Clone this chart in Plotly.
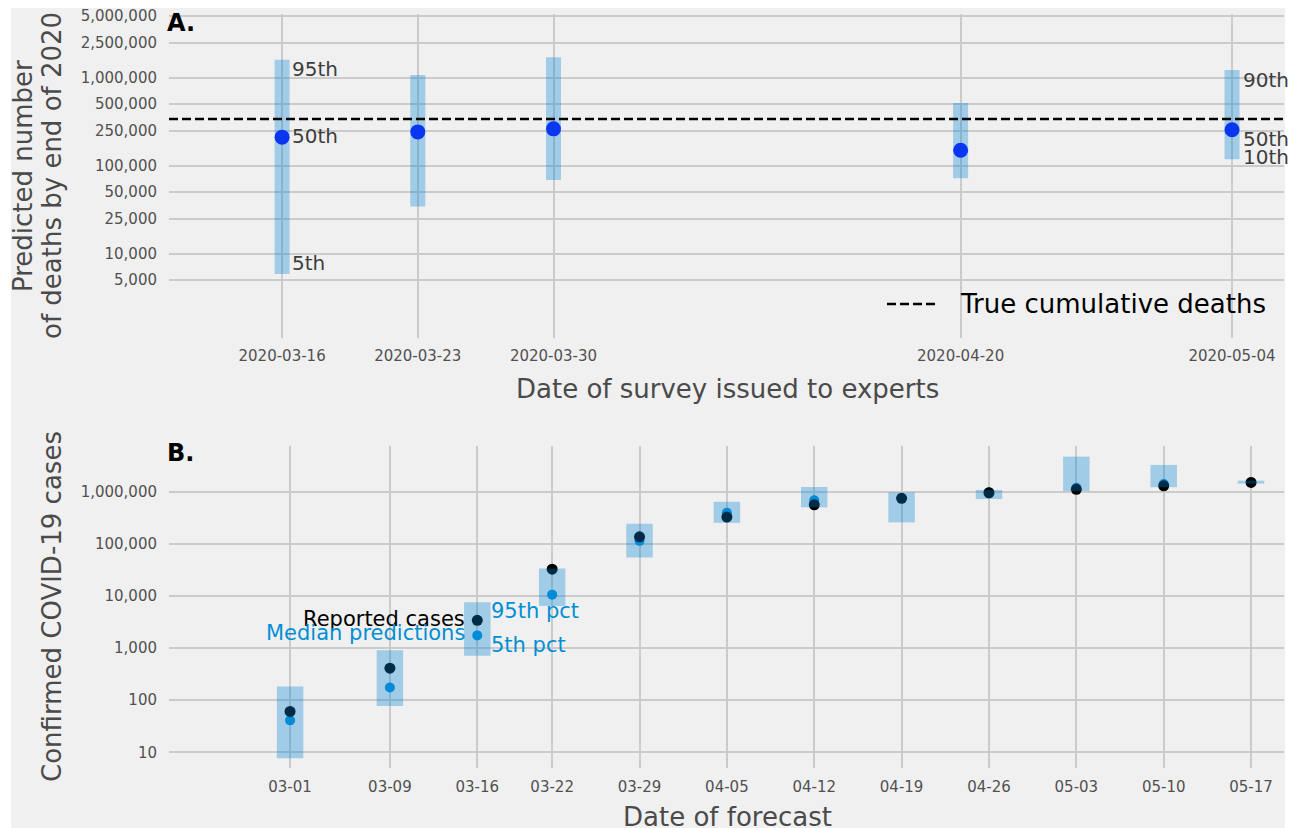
import numpy as np
import plotly.graph_objects as go

# ---------------- Panel A: expert survey predictions of 2020 deaths ----------------
survey_dates = ["2020-03-16", "2020-03-23", "2020-03-30", "2020-04-20", "2020-05-04"]
pred_low = [5840, 34200, 68700, 71800, 118000]        # 5th pct (10th for the last survey)
pred_median = [210000, 241000, 261000, 149000, 255000]
pred_high = [1590000, 1070000, 1700000, 515000, 1220000]  # 95th pct (90th for the last survey)
true_deaths = 338000

deaths_ticks = [5000, 10000, 25000, 50000, 100000, 250000, 500000, 1000000, 2500000, 5000000]
deaths_tick_text = [f"{v:,}" for v in deaths_ticks]

# ---------------- Panel B: weekly case forecasts vs reported ----------------
forecast_dates = ["2020-03-01", "2020-03-09", "2020-03-16", "2020-03-22", "2020-03-29",
                  "2020-04-05", "2020-04-12", "2020-04-19", "2020-04-26", "2020-05-03",
                  "2020-05-10", "2020-05-17"]
forecast_tick_text = ["03-01", "03-09", "03-16", "03-22", "03-29", "04-05", "04-12",
                      "04-19", "04-26", "05-03", "05-10", "05-17"]
cases_low = [7.7, 77, 714, 6430, 54700, 253000, 501000, 258000, 723000, 1030000, 1220000, 1430000]
cases_high = [183, 904, 7570, 33600, 243000, 642000, 1230000, 973000, 1080000, 4710000, 3260000, 1630000]
cases_median = [41, 175, 1750, 10600, 114000, 395000, 684000, 760000, 980000, 1190000, 1410000, 1520000]
cases_reported = [61, 412, 3410, 32600, 136000, 326000, 562000, 747000, 955000, 1110000, 1300000, 1510000]
cases_ticks = [10, 100, 1000, 10000, 100000, 1000000]
cases_tick_text = [f"{v:,}" for v in cases_ticks]

# ---------------- style ----------------
W, H = 1302, 828
FONT = "DejaVu Sans"
BG = "#f0f0f0"
GRID = "#cbcbcb"
TICK_COL = "#505050"
TITLE_COL = "#4a4a4a"
BAR_COL = "rgba(0,130,215,0.33)"
BLUE = "#008fd5"
DOT_A = "#0a36f2"


def px_x(px):
    return px / W


def px_y(py):
    return 1 - py / H


fig = go.Figure()

# Panel A bars (interval between low and high percentile)
fig.add_trace(go.Bar(
    x=survey_dates, base=pred_low,
    y=[h - l for h, l in zip(pred_high, pred_low)],
    width=0.774 * 86400000, marker=dict(color=BAR_COL, line=dict(width=0)),
    xaxis="x", yaxis="y", showlegend=False, hoverinfo="skip",
))
# Panel A: observed cumulative deaths as a dashed horizontal line across the axis
x_range_a = ["2020-03-10 04:00", "2020-05-06 16:20"]
fig.add_trace(go.Scatter(
    x=x_range_a, y=[true_deaths, true_deaths], mode="lines",
    line=dict(color="black", width=2.5, dash="9px,4px"),
    xaxis="x", yaxis="y", showlegend=False, hoverinfo="skip",
))
# Panel A medians
fig.add_trace(go.Scatter(
    x=survey_dates, y=pred_median, mode="markers",
    marker=dict(color=DOT_A, size=15),
    xaxis="x", yaxis="y", showlegend=False,
))

# Panel B: medians and reported counts, with interval boxes drawn on top
fig.add_trace(go.Scatter(
    x=forecast_dates, y=cases_median, mode="markers",
    marker=dict(color=BLUE, size=10),
    xaxis="x2", yaxis="y2", showlegend=False, zorder=0,
))
fig.add_trace(go.Scatter(
    x=forecast_dates, y=cases_reported, mode="markers",
    marker=dict(color="black", size=11),
    xaxis="x2", yaxis="y2", showlegend=False, zorder=1,
))
fig.add_trace(go.Bar(
    x=forecast_dates, base=cases_low,
    y=[h - l for h, l in zip(cases_high, cases_low)],
    width=2.12 * 86400000, marker=dict(color=BAR_COL, line=dict(width=0)),
    xaxis="x2", yaxis="y2", showlegend=False, hoverinfo="skip", zorder=2,
))

axis_common = dict(
    showgrid=True, gridcolor=GRID, gridwidth=1.6, zeroline=False, showline=False,
    ticks="", automargin=False,
    tickfont=dict(family=FONT, size=15, color=TICK_COL),
)

fig.update_layout(
    width=W, height=H,
    margin=dict(l=0, r=0, t=0, b=0, autoexpand=False),
    paper_bgcolor="white",
    plot_bgcolor="rgba(0,0,0,0)",
    font=dict(family=FONT),
    barmode="overlay",
    xaxis=dict(domain=[px_x(169), px_x(1284)], anchor="y", type="date",
               range=x_range_a, tickmode="array", tickvals=survey_dates,
               ticktext=survey_dates, ticklabelstandoff=7, **axis_common),
    yaxis=dict(domain=[px_y(338), px_y(14)], anchor="x", type="log",
               range=[3.040, 6.722], tickmode="array", tickvals=deaths_ticks,
               ticktext=deaths_tick_text, ticklabelstandoff=11, **axis_common),
    xaxis2=dict(domain=[px_x(169), px_x(1284)], anchor="y2", type="date",
                range=["2020-02-20 07:12", "2020-05-19 15:20"], tickmode="array",
                tickvals=forecast_dates, ticktext=forecast_tick_text,
                ticklabelstandoff=8, **axis_common),
    yaxis2=dict(domain=[px_y(768), px_y(446)], anchor="x2", type="log",
                range=[0.699, 6.877], tickmode="array", tickvals=cases_ticks,
                ticktext=cases_tick_text, ticklabelstandoff=11, **axis_common),
)

# gray canvas behind both panels
fig.add_shape(type="rect", xref="paper", yref="paper",
              x0=px_x(11), x1=px_x(1285), y0=0, y1=px_y(8),
              fillcolor=BG, line=dict(width=0), layer="below")

# legend key for the dashed line
fig.add_shape(type="line", xref="paper", yref="paper",
              x0=px_x(887), x1=px_x(938), y0=px_y(304), y1=px_y(304),
              line=dict(color="black", width=2.5, dash="9px,4px"))

ann = []


def text(x, y, s, size, color, xanchor="center", yanchor="middle", angle=0,
         xref="paper", yref="paper", xshift=0, yshift=0, bold=False):
    if bold:
        s = f"<b>{s}</b>"
    ann.append(dict(x=x, y=y, text=s, xref=xref, yref=yref, showarrow=False,
                    xanchor=xanchor, yanchor=yanchor, textangle=angle,
                    xshift=xshift, yshift=yshift,
                    font=dict(family=FONT, size=size, color=color)))


# axis titles and panel letters
text(px_x(23), px_y(176), "Predicted number", 26, TITLE_COL, angle=-90)
text(px_x(52), px_y(176), "of deaths by end of 2020", 26, TITLE_COL, angle=-90)
text(px_x(727), px_y(389), "Date of survey issued to experts", 26, TITLE_COL)
text(px_x(52), px_y(607), "Confirmed COVID-19 cases", 26, TITLE_COL, angle=-90)
text(px_x(727), px_y(817), "Date of forecast", 26, TITLE_COL)
text(px_x(165), px_y(23), "A.", 24, "black", xanchor="left", bold=True)
text(px_x(165), px_y(453), "B.", 24, "black", xanchor="left", bold=True)
text(px_x(958), px_y(304), "True cumulative deaths", 26, "black", xanchor="left")

# percentile labels, panel A
PCT_COL = "#3d3d3d"
d0, d4 = survey_dates[0], survey_dates[-1]
text(d0, np.log10(pred_high[0]), "95th", 20, PCT_COL, "left", xref="x", yref="y", xshift=8, yshift=-9)
text(d0, np.log10(pred_median[0]), "50th", 20, PCT_COL, "left", xref="x", yref="y", xshift=8, yshift=1)
text(d0, np.log10(pred_low[0]), "5th", 20, PCT_COL, "left", xref="x", yref="y", xshift=8, yshift=11)
text(d4, np.log10(pred_high[-1]), "90th", 20, PCT_COL, "left", xref="x", yref="y", xshift=9, yshift=-10)
text(d4, np.log10(pred_median[-1]), "50th", 20, PCT_COL, "left", xref="x", yref="y", xshift=9, yshift=-9)
text(d4, np.log10(pred_low[-1]), "10th", 20, PCT_COL, "left", xref="x", yref="y", xshift=9, yshift=2)

# series labels, panel B (on the 03-16 forecast)
k = 2
fd = forecast_dates[k]
text(fd, np.log10(cases_reported[k]), "Reported cases", 21, "black", "right", xref="x2", yref="y2", xshift=-10, yshift=1)
text(fd, np.log10(cases_median[k]), "Median predictions", 21, BLUE, "right", xref="x2", yref="y2", xshift=-10, yshift=2)
text(fd, np.log10(cases_high[k]), "95th pct", 21, BLUE, "left", xref="x2", yref="y2", xshift=12, yshift=-9)
text(fd, np.log10(cases_low[k]), "5th pct", 21, BLUE, "left", xref="x2", yref="y2", xshift=12, yshift=11)

fig.update_layout(annotations=ann)

fig.write_html("out.html")
